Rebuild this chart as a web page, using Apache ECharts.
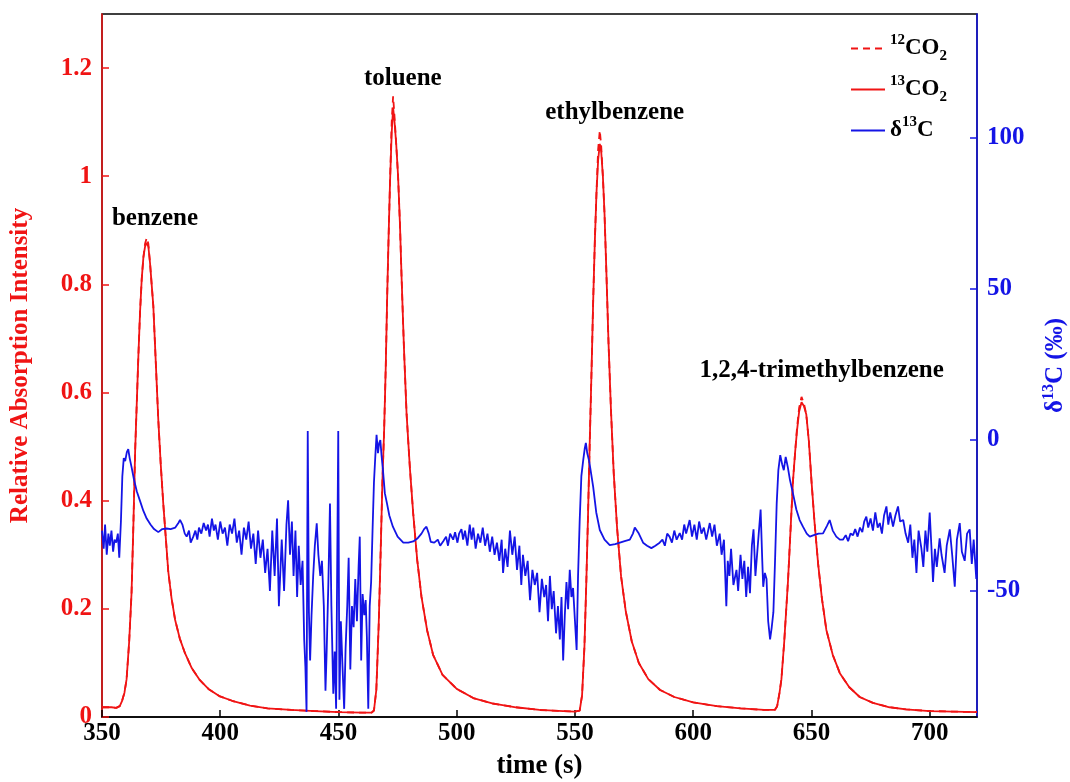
<!DOCTYPE html>
<html>
<head>
<meta charset="utf-8">
<script src="https://cdn.jsdelivr.net/npm/echarts@6/dist/echarts.min.js"></script>
<style>html,body{margin:0;padding:0;background:#fff}#c{width:1070px;height:782px}</style>
</head>
<body>
<div id="c"></div>
<script>
// ---- data ----
const xTicks = [350, 400, 450, 500, 550, 600, 650, 700];
const leftTicks = [0, 0.2, 0.4, 0.6, 0.8, 1, 1.2];
const rightTicks = [-50, 0, 50, 100];

const co2Time = [350,352,354,356,357.5,358.5,359.5,360.4,361.5,362.5,363.3,364,364.7,365.4,366.1,366.8,367.5,368.2,368.9,369.6,370.3,371,371.7,372.7,373.8,374.8,375.9,377,378,379.4,380.9,382.9,385.1,388,391.4,395,399.9,405,412.6,420,430,440,450,460,464,465,466,467,467.8,468.6,469.3,470,470.6,471.2,471.8,472.5,473.1,473.7,474.4,475.2,476,476.7,477.7,478.8,480.2,481.6,483.3,485.1,487.5,490,494,500,507,515,525,535,545,550,552,553,554,554.8,555.5,556.2,557,557.7,558.4,559.1,559.8,560.5,561.1,561.8,562.5,563.3,564.2,565.2,566.4,567.8,569.5,571.5,574,577,581,586,592,600,610,620,630,634.5,635.5,636.5,637.3,638.5,640.1,641.2,642.2,643.1,643.9,644.8,645.8,646.8,647.8,648.9,650,651.3,652.8,654.4,656.3,659,662,666,670.4,676,683,690,700,710,720];
const co2_13 = [0.018,0.018,0.018,0.017,0.02,0.03,0.045,0.07,0.14,0.23,0.36,0.49,0.58,0.67,0.75,0.81,0.85,0.87,0.877,0.87,0.84,0.80,0.76,0.66,0.55,0.47,0.395,0.33,0.27,0.22,0.18,0.145,0.118,0.09,0.068,0.052,0.038,0.03,0.021,0.016,0.013,0.011,0.009,0.008,0.008,0.012,0.05,0.17,0.30,0.44,0.53,0.65,0.78,0.89,0.99,1.08,1.127,1.10,1.06,1.00,0.91,0.81,0.68,0.56,0.46,0.376,0.29,0.222,0.16,0.115,0.078,0.052,0.035,0.025,0.018,0.013,0.011,0.01,0.012,0.04,0.13,0.25,0.37,0.50,0.64,0.77,0.88,0.97,1.03,1.06,1.045,1.0,0.93,0.82,0.69,0.57,0.45,0.35,0.26,0.195,0.14,0.10,0.07,0.05,0.037,0.027,0.02,0.016,0.013,0.013,0.02,0.045,0.07,0.14,0.253,0.35,0.437,0.49,0.53,0.565,0.582,0.575,0.56,0.51,0.437,0.36,0.284,0.22,0.161,0.115,0.081,0.055,0.037,0.026,0.018,0.014,0.011,0.01,0.009];
const co2_12 = [0.018,0.018,0.018,0.017,0.02,0.03,0.045,0.07,0.14,0.23,0.36,0.49,0.58,0.67,0.75,0.81,0.85,0.875,0.886,0.875,0.84,0.80,0.76,0.66,0.55,0.47,0.395,0.33,0.27,0.22,0.18,0.145,0.118,0.09,0.068,0.052,0.038,0.03,0.021,0.016,0.013,0.011,0.009,0.008,0.008,0.012,0.05,0.17,0.30,0.44,0.53,0.65,0.78,0.89,0.99,1.10,1.148,1.11,1.06,1.00,0.91,0.81,0.68,0.56,0.46,0.376,0.29,0.222,0.16,0.115,0.078,0.052,0.035,0.025,0.018,0.013,0.011,0.01,0.012,0.04,0.13,0.25,0.37,0.50,0.64,0.77,0.88,0.97,1.05,1.085,1.055,1.0,0.93,0.82,0.69,0.57,0.45,0.35,0.26,0.195,0.14,0.10,0.07,0.05,0.037,0.027,0.02,0.016,0.013,0.013,0.02,0.045,0.07,0.14,0.253,0.35,0.437,0.49,0.535,0.572,0.592,0.58,0.56,0.51,0.437,0.36,0.284,0.22,0.161,0.115,0.081,0.055,0.037,0.026,0.018,0.014,0.011,0.01,0.009];

const deltaTime = [350,350.7,351.3,352,352.7,353.3,354,354.7,355.3,356,356.7,357.3,358,358.6,359.2,359.8,360.5,361.1,361.7,362.5,363.5,364.7,366,367.5,368.9,370.5,372,373.8,375.5,377.3,379,381,382.3,383,384,385,385.8,386.8,387.5,388.6,389.5,390.3,391,392,393,394,394.8,395.5,396.5,397.3,398,399,400,401,402,403,404,405,406,407,408,409,410,411,412,413,414,415,416,417,418,419,420,421,422,423,424,424.8,425.5,426,427,428,428.7,429.5,430.3,431,431.8,432.5,433.2,434,434.8,435.5,436,436.5,437,437.5,438,438.6,439.3,440,440.8,441.5,442.3,443,443.8,444.5,445,445.7,446.4,447,447.8,448.4,449,449.9,450.4,451,451.7,452.4,453,453.7,454.3,455,455.7,456.4,457.1,457.8,458.5,459,459.6,460.2,460.9,461.5,462,462.6,463.2,463.8,464.4,465,465.6,466.1,466.7,467.2,467.7,468.2,468.8,469.6,470.5,471.5,473,475,477.4,479.5,481.6,483.5,485.1,486.2,487.2,488.2,489,490.5,492,493,494.3,495.5,496.3,497.2,498.5,499.3,500.3,501,502,502.7,503.5,504.5,505.5,506.3,507,508,509,510,511,512,513,514,515,516,517,518,519,519.6,520.5,521.5,522.5,523.5,524.5,525.5,526.5,527.3,528,529,530,531,532,533,534,535,536,537,537.8,538.6,539.4,540.2,541,542,542.8,543.6,544.3,545,545.7,546.4,547.1,547.8,548.5,549.2,550,550.7,551.3,552,552.7,553.5,554.1,554.6,555.2,556,556.8,557.7,559,560.5,562.5,564.7,567,569,571,573.2,574.5,575.3,576,577,578.8,580.5,582.3,584,585.8,587,588,589,590,591,592,593,594.3,595.3,596.2,597,598.5,599.5,600.5,601.5,602.5,603.5,604.5,605.5,607,608,609,610,611.2,612,613,614,614.6,615.3,616,617,618.3,619,620,620.8,621.6,622.4,623.2,624,624.8,625.5,626.3,627,627.8,628.5,629.2,629.6,630.3,631,631.7,632.5,633.2,633.9,634.6,635.3,636,636.8,637.6,638.3,639.1,640,640.9,642,643.6,645,646.4,648,649.3,651,653,654.9,656.5,657.7,659,660.5,662,663.3,664.5,665.5,666.5,667.6,668.5,669.5,670.5,671.5,672.3,673.2,674,675,676,677,678,678.9,679.8,680.7,681.7,682.5,683.3,684.5,685.5,686.6,687.5,688.8,689.8,690.9,691.8,692.7,693.5,694.4,695.3,696.5,697.3,698.2,699,700,700.7,701.4,702.2,703,704.2,705,706.3,707.2,708.5,709.5,710.6,711.5,712.7,713.6,714.8,715.8,716.9,717.8,718.6,719.7,720];
const deltaVal = [-30,-36,-28,-38,-31,-35,-30,-37,-33,-34,-31,-39,-27,-12,-6,-7,-4,-3,-6,-9,-13,-17,-20,-23.5,-26,-28,-29.5,-30.5,-29.5,-29.3,-29.5,-29,-27.5,-26.5,-28,-31,-32,-30,-34,-32,-30,-33,-29,-31,-27.5,-30,-28,-32,-26,-30,-28,-33,-27,-31,-29,-35,-28,-31,-26,-34,-30,-38,-29,-33,-27,-36,-31,-41,-30,-39,-33,-44,-36,-50,-30,-45,-26,-55,-42,-33,-50,-28,-20,-38,-27,-45,-30,-52,-35,-48,-40,-66,-75,-90,3,-57,-73,-58,-45,-35,-27.6,-38,-45,-40,-55,-83,-70,-48,-21,-55,-84,-70,-89,3,-86,-60,-75,-89,-69,-55,-39,-76,-55,-62,-46,-60,-42,-32,-73,-51,-58,-53,-65,-89,-55,-47,-30,-14,-5,1.7,-4.4,-1,0,-5,-10,-17.6,-21,-25,-28.7,-32,-34,-34,-33.6,-32.5,-31,-29.5,-28.7,-31,-33.7,-34,-33,-35,-33.5,-32,-35,-31,-33,-30.5,-34,-31,-29.5,-33,-30,-35,-28,-33,-29,-36,-31,-34,-29,-35,-31,-37,-32,-38,-34,-40,-33,-44,-36,-42,-30,-38,-32,-43,-35,-48,-38,-45,-40,-53,-43,-48,-44,-57,-46,-52,-48,-60,-45,-56,-50,-64,-55,-66,-52,-73,-58,-47,-56,-43,-52,-49,-60,-69.5,-45,-26.5,-12,-6.6,-3,-1,-4.4,-7,-11,-15.5,-24,-29.8,-33,-34.8,-34.5,-34,-33.5,-33,-31,-29,-28.7,-31,-34,-35,-35.8,-35,-34,-33,-35,-31,-32,-34,-30,-33,-30.8,-33,-28,-31,-26.5,-32,-28,-33,-27,-31,-29,-33,-27.5,-32,-28,-35,-31,-38,-33,-55,-40,-45,-36,-48,-43,-50,-38,-46,-40,-52,-42,-50.7,-35,-29.6,-45,-38,-30,-23,-40,-48.6,-44,-46,-60,-66,-62,-57,-40,-21,-10,-5,-8,-10,-5.6,-9,-13.2,-17,-23,-26.5,-28.7,-31,-32,-31.5,-31,-30.9,-28.5,-26.5,-30,-32,-33,-33,-31.5,-33.5,-31,-31.5,-29.5,-32,-29,-30.5,-27,-25.4,-29,-26,-30,-24,-29,-27.5,-31,-25,-22,-28,-24,-28.7,-25,-22,-27,-26.5,-31,-34,-28,-39,-33,-44,-30,-36,-42,-30,-37,-24,-35,-47,-36,-42,-32.6,-38,-44,-35,-29.6,-38,-48.6,-33,-27.5,-37,-40,-31,-29.6,-41,-33,-46,-38];

const peakNames = ['benzene', 'toluene', 'ethylbenzene', '1,2,4-trimethylbenzene'];
const peakLabelTime = [372.4, 477.2, 566.8, 654.3];
const peakLabelValue = [0.921, 1.181, 1.117, 0.641];

// ---- chart ----
const RED = '#f01414', BLUE = '#1414e6', BLACK = '#000', FONT = 'Liberation Serif';
const pairs = (xs, ys) => xs.map((x, i) => [x, ys[i]]);
const rich = {
  n: {fontFamily: FONT, fontWeight: 'bold', fontSize: 23, color: BLACK, verticalAlign: 'bottom', padding: [0,0,4,0]},
  sup: {fontFamily: FONT, fontWeight: 'bold', fontSize: 15, color: BLACK, verticalAlign: 'bottom', padding: [0,0,16,0]},
  sub: {fontFamily: FONT, fontWeight: 'bold', fontSize: 15, color: BLACK, verticalAlign: 'bottom', padding: [0,0,0,0]}
};
const legendText = {'12CO2': '{sup|12}{n|CO}{sub|2}', '13CO2': '{sup|13}{n|CO}{sub|2}', 'δ13C': '{n|δ}{sup|13}{n|C}'};

const chart = echarts.init(document.getElementById('c'), null, {renderer: 'canvas'});
chart.setOption({
  animation: false,
  backgroundColor: '#fff',
  grid: {left: 102, right: 93, top: 14, bottom: 65, outerBoundsMode: 'none', show: true, borderColor: '#000', borderWidth: 1.5, backgroundColor: 'transparent'},
  legend: {
    orient: 'vertical', left: 845, top: 28, itemGap: 10, itemWidth: 34, itemHeight: 14,
    data: ['12CO2', '13CO2', 'δ13C'],
    formatter: n => legendText[n],
    itemStyle: {opacity: 0},
    textStyle: {rich: rich}
  },
  xAxis: {
    type: 'value', min: 350, max: 720,
    name: 'time (s)', nameLocation: 'middle', nameGap: 36,
    nameTextStyle: {fontFamily: FONT, fontWeight: 'bold', fontSize: 27, color: BLACK},
    axisLine: {lineStyle: {color: '#000', width: 1.5}},
    axisTick: {inside: true, length: 7, customValues: xTicks, lineStyle: {color: '#000', width: 1.5}},
    axisLabel: {customValues: xTicks, margin: 4, fontFamily: FONT, fontWeight: 'bold', fontSize: 25, color: BLACK},
    splitLine: {show: false}
  },
  yAxis: [{
    type: 'value', min: 0, max: 1.3, position: 'left',
    name: 'Relative Absorption Intensity', nameLocation: 'middle', nameGap: 69, nameRotate: 90,
    nameTextStyle: {fontFamily: FONT, fontWeight: 'bold', fontSize: 25, color: RED},
    axisLine: {show: true, lineStyle: {color: RED, width: 1.5}},
    axisTick: {show: true, inside: true, length: 7, customValues: leftTicks, lineStyle: {color: RED, width: 1.5}},
    axisLabel: {customValues: leftTicks, margin: 10, fontFamily: FONT, fontWeight: 'bold', fontSize: 25, color: RED},
    splitLine: {show: false}
  }, {
    type: 'value', min: -91.7, max: 141, position: 'right',
    name: '{d|δ}{s|13}{d|C (‰)}', nameLocation: 'middle', nameGap: 64, nameRotate: 90,
    nameTextStyle: {rich: {
      d: {fontFamily: FONT, fontWeight: 'bold', fontSize: 25, color: BLUE, verticalAlign: 'bottom', padding: [0,0,0,0]},
      s: {fontFamily: FONT, fontWeight: 'bold', fontSize: 16, color: BLUE, verticalAlign: 'bottom', padding: [0,0,11,0]}
    }},
    axisLine: {show: true, lineStyle: {color: BLUE, width: 1.5}},
    axisTick: {show: true, inside: true, length: 7, customValues: rightTicks, lineStyle: {color: BLUE, width: 1.5}},
    axisLabel: {customValues: rightTicks, margin: 10, fontFamily: FONT, fontWeight: 'bold', fontSize: 25, color: BLUE},
    splitLine: {show: false}
  }],
  series: [{
    name: '12CO2', type: 'line', yAxisIndex: 0, showSymbol: false, symbol: 'none',
    lineStyle: {color: RED, width: 1.8, type: [7, 5]}, itemStyle: {color: RED},
    data: pairs(co2Time, co2_12), z: 2
  }, {
    name: '13CO2', type: 'line', yAxisIndex: 0, showSymbol: false, symbol: 'none',
    lineStyle: {color: RED, width: 1.8}, itemStyle: {color: RED},
    data: pairs(co2Time, co2_13), z: 3
  }, {
    name: 'δ13C', type: 'line', yAxisIndex: 1, showSymbol: false, symbol: 'none',
    lineStyle: {color: BLUE, width: 1.8}, itemStyle: {color: BLUE},
    data: pairs(deltaTime, deltaVal), z: 4
  }, {
    type: 'scatter', yAxisIndex: 0, symbolSize: 0, silent: true,
    itemStyle: {color: 'transparent'},
    label: {show: true, position: 'inside', formatter: p => p.name, fontFamily: FONT, fontWeight: 'bold', fontSize: 25, color: BLACK, opacity: 1, textBorderWidth: 0},
    data: peakNames.map((n, i) => ({name: n, value: [peakLabelTime[i], peakLabelValue[i]]}))
  }]
});
</script>
</body>
</html>
